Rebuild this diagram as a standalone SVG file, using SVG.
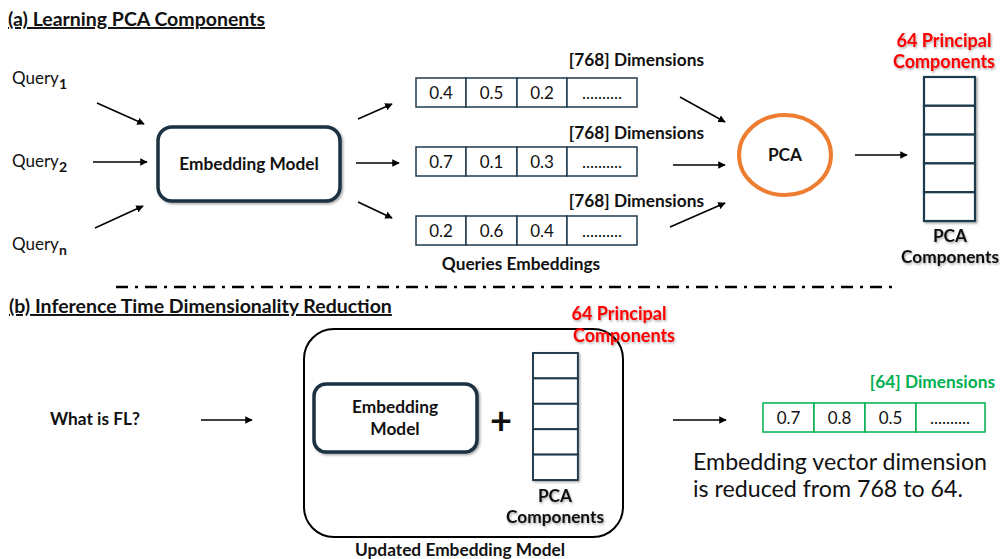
<svg xmlns="http://www.w3.org/2000/svg" width="1000" height="559" viewBox="0 0 1000 559">
  <style>
    text { font-family: Lato, "Open Sans", "Liberation Sans", sans-serif; fill: #111; }
    .b { font-weight: bold; }
    .title { font-size: 19.5px; font-weight: bold; text-decoration: underline; }
    .q { font-size: 17px; }
    .cellv { font-size: 17px; text-anchor: middle; }
    .dim { font-size: 17.3px; font-weight: bold; text-anchor: end; }
    .lbl { font-size: 17.3px; font-weight: bold; text-anchor: middle; }
    .red { font-size: 18px; font-weight: bold; fill: #ff0000; text-anchor: middle; }
    .green { fill: #00b050; }
    .model { fill: #fff; stroke: #1b3040; stroke-width: 3.5; }
    .cell { fill: #fff; stroke: #1f3a4d; stroke-width: 1.5; }
    .gcell { fill: #fff; stroke: #00b050; stroke-width: 1.5; }
    .stack { fill: #fff; stroke: #1f3a4d; stroke-width: 2.2; }
    .arrow { stroke: #000; stroke-width: 1.5; fill: none; marker-end: url(#head); }
  </style>
  <defs>
    <marker id="head" viewBox="0 0 10 10" refX="9" refY="5" markerWidth="5" markerHeight="5" orient="auto" markerUnits="strokeWidth">
      <path d="M0,0 L10,5 L0,10 z" fill="#000"/>
    </marker>
    <filter id="shadow" x="-10%" y="-10%" width="130%" height="140%">
      <feDropShadow dx="1.5" dy="1.5" stdDeviation="1" flood-color="#000" flood-opacity="0.35"/>
    </filter>
    <filter id="tshadow" x="-5%" y="-20%" width="115%" height="150%">
      <feDropShadow dx="1" dy="1.5" stdDeviation="0.8" flood-color="#000" flood-opacity="0.35"/>
    </filter>
    <!-- a vector row of four cells, 221 wide -->
    <g id="vecCells">
      <rect class="cell" x="0" y="0" width="50" height="29"/>
      <rect class="cell" x="50" y="0" width="51" height="29"/>
      <rect class="cell" x="101" y="0" width="50" height="29"/>
      <rect class="cell" x="151" y="0" width="70" height="29"/>
    </g>
    <!-- five-slot component stack -->
    <g id="stack5">
      <rect class="stack" x="0" y="0" width="51" height="28.8"/>
      <rect class="stack" x="0" y="28.8" width="51" height="28.8"/>
      <rect class="stack" x="0" y="57.6" width="51" height="28.8"/>
      <rect class="stack" x="0" y="86.4" width="51" height="28.8"/>
      <rect class="stack" x="0" y="115.2" width="51" height="28.8"/>
    </g>
  </defs>

  <!-- Part (a) -->
  <text class="title" x="8" y="26">(a) Learning PCA Components</text>

  <g id="query1"><text class="q" x="12" y="84">Query<tspan class="b" font-size="14" dy="5">1</tspan></text></g>
  <g id="query2"><text class="q" x="12" y="167">Query<tspan class="b" font-size="14" dy="5">2</tspan></text></g>
  <g id="queryn"><text class="q" x="12" y="250">Query<tspan class="b" font-size="14" dy="5">n</tspan></text></g>

  <g id="embedding-model">
    <rect class="model" x="158" y="127" width="182" height="74" rx="14" filter="url(#shadow)"/>
    <text class="lbl" x="249" y="170" font-size="18">Embedding Model</text>
  </g>

  <g id="embedding1">
    <use href="#vecCells" x="416" y="78"/>
    <text class="cellv" x="441" y="98.5">0.4</text>
    <text class="cellv" x="491.5" y="98.5">0.5</text>
    <text class="cellv" x="542" y="98.5">0.2</text>
    <text class="cellv" x="602" y="98.5">..........</text>
    <text class="dim" x="704" y="66">[768] Dimensions</text>
  </g>
  <g id="embedding2">
    <use href="#vecCells" x="416" y="147"/>
    <text class="cellv" x="441" y="167.5">0.7</text>
    <text class="cellv" x="491.5" y="167.5">0.1</text>
    <text class="cellv" x="542" y="167.5">0.3</text>
    <text class="cellv" x="602" y="167.5">..........</text>
    <text class="dim" x="704" y="139">[768] Dimensions</text>
  </g>
  <g id="embedding3">
    <use href="#vecCells" x="416" y="216"/>
    <text class="cellv" x="441" y="236.5">0.2</text>
    <text class="cellv" x="491.5" y="236.5">0.6</text>
    <text class="cellv" x="542" y="236.5">0.4</text>
    <text class="cellv" x="602" y="236.5">..........</text>
    <text class="dim" x="704" y="207">[768] Dimensions</text>
  </g>
  <g id="queries-embeddings-label">
    <text class="lbl" x="521" y="270">Queries Embeddings</text>
  </g>

  <g id="pca">
    <ellipse cx="785" cy="155" rx="46" ry="40" fill="#fff" stroke="#ed7d31" stroke-width="4"/>
    <text class="lbl" x="785" y="161" font-size="18">PCA</text>
  </g>

  <g id="pca-components">
    <text class="red" x="944" y="47" filter="url(#tshadow)">64 Principal</text>
    <text class="red" x="944" y="68" filter="url(#tshadow)">Components</text>
    <use href="#stack5" x="924" y="77" filter="url(#shadow)"/>
    <text class="lbl" x="950" y="242" filter="url(#tshadow)">PCA</text>
    <text class="lbl" x="950" y="263" filter="url(#tshadow)">Components</text>
  </g>

  <!-- separator -->
  <line x1="116" y1="287" x2="893" y2="287" stroke="#000" stroke-width="2.5" stroke-dasharray="12,7,3,7"/>

  <!-- Part (b) -->
  <text class="title" x="9" y="313">(b) Inference Time Dimensionality Reduction</text>

  <g id="question"><text class="lbl" x="95" y="425">What is FL?</text></g>

  <g id="updated-model">
    <rect x="304" y="329" width="319" height="208" rx="30" fill="#fff" stroke="#000" stroke-width="2"/>
    <rect class="model" x="314" y="384" width="163" height="68" rx="12" filter="url(#shadow)"/>
    <text class="lbl" x="395" y="413">Embedding</text>
    <text class="lbl" x="395" y="435">Model</text>
    <text x="501" y="434" font-size="38" font-weight="bold" text-anchor="middle">+</text>
    <g transform="translate(533,353) scale(0.88,0.882)">
      <use href="#stack5" filter="url(#shadow)"/>
    </g>
    <text class="lbl" x="555" y="502" filter="url(#tshadow)">PCA</text>
    <text class="lbl" x="555" y="523" filter="url(#tshadow)">Components</text>
    <text class="red" x="619" y="320" filter="url(#tshadow)">64 Principal</text>
    <text class="red" x="624" y="342" filter="url(#tshadow)">Components</text>
    <text class="lbl" x="460" y="556">Updated Embedding Model</text>
  </g>

  <g id="reduced-embedding">
    <rect class="gcell" x="763" y="403" width="51" height="29"/>
    <rect class="gcell" x="814" y="403" width="51" height="29"/>
    <rect class="gcell" x="865" y="403" width="51" height="29"/>
    <rect class="gcell" x="916" y="403" width="69" height="29"/>
    <text class="cellv" x="788.5" y="423.5">0.7</text>
    <text class="cellv" x="839.5" y="423.5">0.8</text>
    <text class="cellv" x="890.5" y="423.5">0.5</text>
    <text class="cellv" x="950" y="423.5">..........</text>
    <text class="dim green" x="995" y="388">[64] Dimensions</text>
  </g>

  <g id="note">
    <text x="693" y="470" font-size="23.2">Embedding vector dimension</text>
    <text x="693" y="497" font-size="23.2">is reduced from 768 to 64.</text>
  </g>

  <!-- connectors -->
  <g id="connectors">
    <line class="arrow" x1="97" y1="103" x2="144" y2="124"/>
    <line class="arrow" x1="93" y1="162" x2="147" y2="162"/>
    <line class="arrow" x1="95" y1="228" x2="143" y2="206"/>
    <line class="arrow" x1="358" y1="119" x2="392" y2="104"/>
    <line class="arrow" x1="356" y1="163" x2="399" y2="163"/>
    <line class="arrow" x1="358" y1="202" x2="392" y2="218"/>
    <line class="arrow" x1="680" y1="97" x2="725" y2="122"/>
    <line class="arrow" x1="673" y1="165" x2="725" y2="165"/>
    <line class="arrow" x1="670" y1="227" x2="725" y2="203"/>
    <line class="arrow" x1="855" y1="155" x2="907" y2="155"/>
    <line class="arrow" x1="201" y1="420" x2="252" y2="420"/>
    <line class="arrow" x1="673" y1="420" x2="726" y2="420"/>
  </g>
</svg>
